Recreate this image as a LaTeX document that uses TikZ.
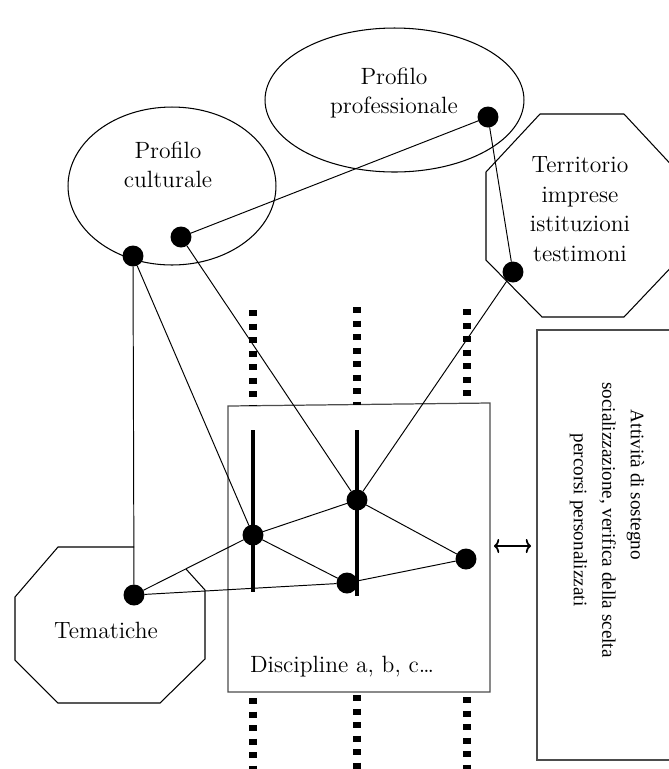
\documentclass[tikz,border=0pt]{standalone}
\usepackage{fontspec}
\newfontfamily\sidefont{Liberation Serif}
\usepackage{tkz-graph}
\usetikzlibrary{arrows.meta,shapes.geometric}

\tikzset{
  txt/.style={align=center, font=\fontsize{13.4}{16.8}\selectfont, inner sep=0pt},
  sidetxt/.style={align=center, font=\sidefont\fontsize{10.9}{16.2}\selectfont, inner sep=0pt},
  outline/.style={draw=black, line width=0.6pt},
  boxline/.style={draw=black!70, line width=0.7pt},
  bar/.style={line width=2.8pt},
  dotline/.style={line width=4.4pt, dash pattern=on 3.4pt off 4.3pt},
}

\begin{document}
\begin{tikzpicture}[x=0.02cm, y=-0.02cm]
\useasboundingbox (0,0) rectangle (669,769);
% ellipses
\node[outline, ellipse, minimum width=5.18cm, minimum height=2.88cm] (prof) at (394.5,100) {};
\node[outline, ellipse, minimum width=4.16cm, minimum height=3.16cm] (cult) at (172,186) {};
% octagons
\draw[outline] (134,547) -- (58,547) -- (15,597) -- (15,660) -- (58,703) -- (160,703)
  -- (205,659) -- (205,590) -- (186,569);
\draw[outline] (540,114) -- (624,114) -- (678,172) -- (678,260) -- (624,317) -- (542,317)
  -- (486,260) -- (486,172) -- cycle;
% boxes
\draw[boxline] (228,406) coordinate (dtl) -- (490,403) coordinate (dtr)
  -- (490,692) coordinate (dbr) -- (228,692) coordinate (dbl) -- cycle;
\draw[boxline] (537,760) -- (537,330) -- (690,330) -- (690,760) -- cycle;
% texts
\node[txt] (tprof) at (394,93) {Profilo\\professionale};
\node[txt] (tcult) at (168,165) {Profilo\\culturale};
\node[txt] (tterr) at (580,209) {Territorio\\imprese\\istituzioni\\testimoni};
\node[txt] (ttem) at (106,630) {Tematiche};
\node[txt] (tdisc) at (342,667) {Discipline a, b, c\dots};
\node[sidetxt, rotate=-90] (tside) at (607,520)
  {Attività di sostegno\hbox to 40pt{}\\socializzazione, verifica della scelta\\percorsi personalizzati};
% dotted columns
\coordinate (da1) at (253,310); \coordinate (da2) at (253,406);
\coordinate (db1) at (357,307); \coordinate (db2) at (357,405);
\coordinate (dc1) at (467,309); \coordinate (dc2) at (467,403);
\coordinate (ua1) at (253,698); \coordinate (ua2) at (253,775);
\coordinate (ub1) at (357,695); \coordinate (ub2) at (357,775);
\coordinate (uc1) at (467,697); \coordinate (uc2) at (467,775);
\draw[dotline] (da1) -- (da2) (db1) -- (db2) (dc1) -- (dc2);
\draw[dotline] (ua1) -- (ua2) (ub1) -- (ub2) (uc1) -- (uc2);
% bars
\coordinate (ba1) at (253,430); \coordinate (ba2) at (253,592);
\coordinate (bb1) at (357,430); \coordinate (bb2) at (357,596);
\draw[bar] (ba1) -- (ba2);
\draw[bar] (bb1) -- (bb2);
% double arrow
\coordinate (arrL) at (494,546); \coordinate (arrR) at (531,546);
\draw[{To[length=3pt,width=8pt]}-{To[length=3pt,width=8pt]}, line width=1pt] (arrL) -- (arrR);
% dots
\GraphInit[vstyle=Empty]
\SetVertexNoLabel
\tikzset{VertexStyle/.style ={shape=circle, fill=black, inner sep=0pt, minimum size=0.42cm}}
\Vertex[x=488, y=117]{P}
\Vertex[x=513, y=272]{T}
\Vertex[x=181, y=237]{Ca}
\Vertex[x=133, y=256]{Cb}
\Vertex[x=134, y=595]{M}
\Vertex[x=253, y=535]{A}
\Vertex[x=357, y=500]{B}
\Vertex[x=347, y=583]{C}
\Vertex[x=466, y=559]{D}
\tikzset{EdgeStyle/.style ={black, line width=0.55pt}}
\Edge(P)(Ca)
\Edge(P)(T)
\Edge(T)(B)
\Edge(Ca)(B)
\Edge(Cb)(A)
\Edge(Cb)(M)
\Edge(M)(A)
\Edge(M)(C)
\Edge(A)(B)
\Edge(A)(C)
\Edge(B)(D)
\Edge(C)(D)
\end{tikzpicture}
\end{document}
